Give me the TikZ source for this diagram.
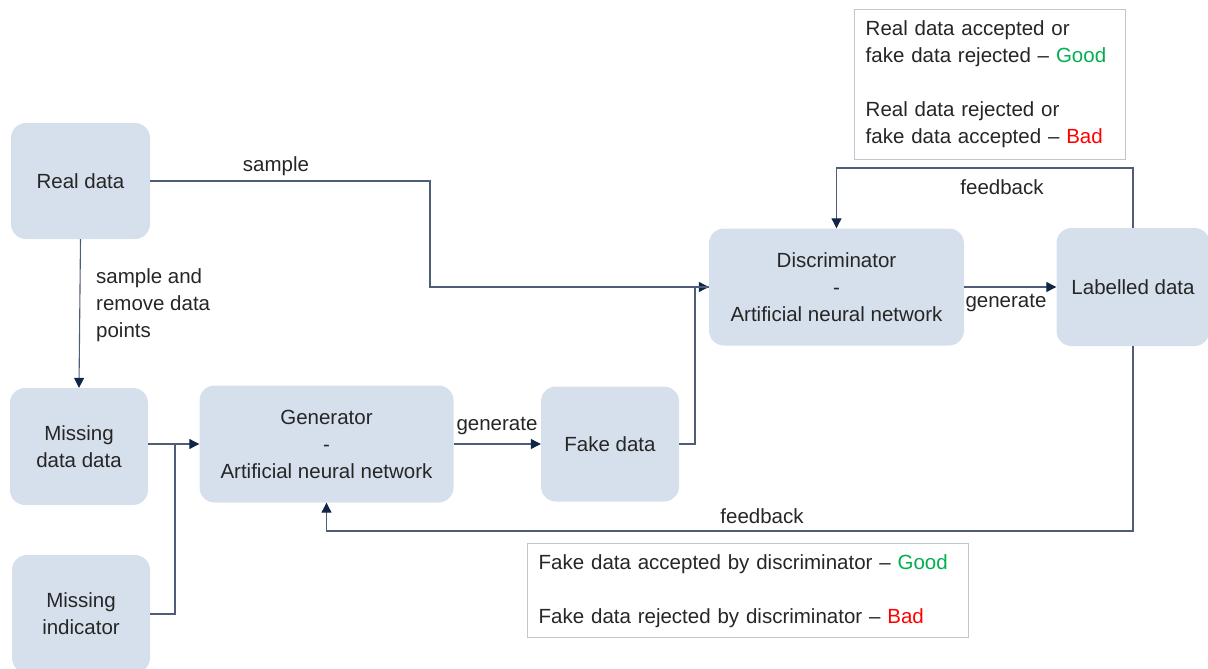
\documentclass[tikz,border=0pt]{standalone}
\usepackage{fontspec}
\setmainfont{Liberation Sans}
\usetikzlibrary{arrows.meta}

\definecolor{boxfill}{RGB}{214,224,236}
\definecolor{txt}{RGB}{38,38,38}
\definecolor{wire}{RGB}{78,94,120}
\definecolor{tipc}{RGB}{16,38,72}
\definecolor{legendline}{RGB}{190,198,208}
\definecolor{goodc}{RGB}{0,176,80}
\definecolor{badc}{RGB}{255,0,0}

\tikzset{
  blk/.style={fill=boxfill, draw=none, rounded corners=15pt, align=center,
    text=txt, inner sep=2pt},
  lbl/.style={text=txt, inner sep=0pt, align=left},
  wireline/.style={draw=wire, line width=1.1pt},
  arr/.style={wireline, -{Triangle[length=10pt,width=10pt,fill=tipc,color=tipc]}},
  legend/.style={draw=legendline, line width=1.4pt, fill=white, text=txt,
    align=left, anchor=north west, inner xsep=11pt, inner ysep=0pt}
}

\begin{document}
\begin{tikzpicture}[x=1pt, y=-1pt, font=\fontsize{20.5}{27}\selectfont]
\useasboundingbox (0,0) rectangle (1208,669);

% data and network blocks
\node[blk, minimum width=139pt, minimum height=116pt] (real) at (80.5,181) {Real data};
\node[blk, minimum width=138pt, minimum height=117pt] (miss) at (79,446.5) {Missing\\data data};
\node[blk, minimum width=138pt, minimum height=118pt] (ind) at (81,614) {Missing\\indicator};
\node[blk, minimum width=254pt, minimum height=117pt] (gen) at (326.5,444) {Generator\\-\\Artificial neural network};
\node[blk, minimum width=138pt, minimum height=115pt] (fake) at (610,444) {Fake data};
\node[blk, minimum width=255pt, minimum height=117pt] (disc) at (836.5,287) {Discriminator\\-\\Artificial neural network};
\node[blk, minimum width=153pt, minimum height=118pt] (lab) at (1133,287) {Labelled data};

% outcome legends
\node[legend, minimum width=271pt, minimum height=150pt, text width=249pt] (legtop) at (854,9)
  {Real data accepted or\\fake data rejected -- \textcolor{goodc}{Good}\\[27pt]
   Real data rejected or\\fake data accepted -- \textcolor{badc}{Bad}};
\node[legend, minimum width=441pt, minimum height=94pt, text width=419pt, inner xsep=10pt] (legbot) at (527,543)
  {Fake data accepted by discriminator -- \textcolor{goodc}{Good}\\[27pt]
   Fake data rejected by discriminator -- \textcolor{badc}{Bad}};

% junction points
\coordinate (jin) at (175,444);
\coordinate (jfake) at (695,287);

% connectors
\draw[arr] (real.east) -- (430,181) |- (disc.west);
\draw[arr] (real.south) -- (miss.north);
\draw[arr] (miss.east |- gen.west) -- (gen.west);
\draw[wireline] (ind.east) -| (jin);
\draw[arr] (gen.east) -- (fake.west);
\draw[wireline] (fake.east) -| (jfake) -- (disc.west);
\draw[arr] (disc.east) -- (lab.west);
\draw[arr] (lab.north) -- (1133,168) -| (disc.north);
\draw[arr] (lab.south) -- (1133,531) -| (gen.south);

% connector labels
\node[lbl] (lsample) at (276,166) {sample};
\node[lbl, anchor=west] (lremove) at (96,305) {sample and\\remove data\\points};
\node[lbl] (lgen1) at (497,426) {generate};
\node[lbl] (lgen2) at (1006,303) {generate};
\node[lbl] (lfb1) at (1002,187) {feedback};
\node[lbl] (lfb2) at (762,516) {feedback};
\end{tikzpicture}
\end{document}
